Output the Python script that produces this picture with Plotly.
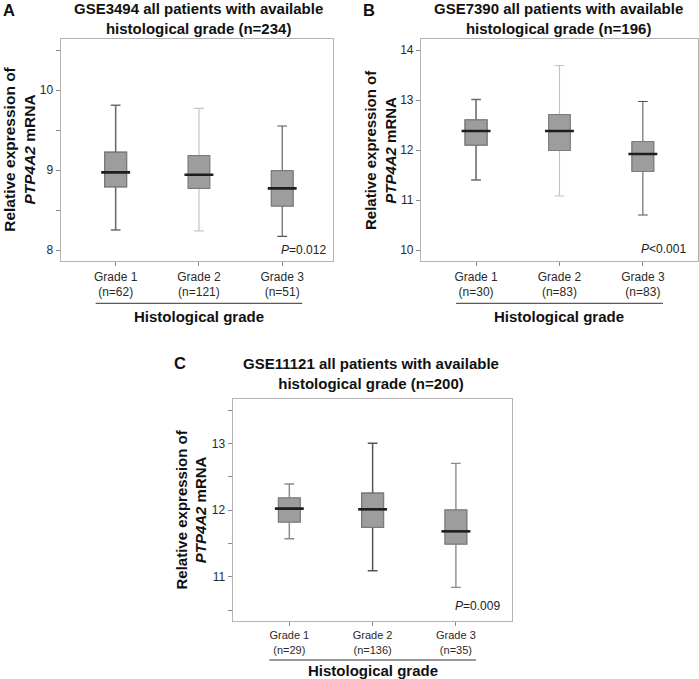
import plotly.graph_objects as go

W, H = 699, 679

# ---------------- data ----------------
grades = ["Grade 1", "Grade 2", "Grade 3"]

A_title = "GSE3494 all patients with available<br>histological grade (n=234)"
A_n = [62, 121, 51]
A_upper = [9.81, 9.77, 9.55]
A_q3 = [9.22, 9.18, 8.99]
A_med = [8.97, 8.94, 8.77]
A_q1 = [8.79, 8.77, 8.55]
A_lower = [8.25, 8.24, 8.17]
A_p = "<i>P</i>=0.012"
A_yticks = [8, 8.5, 9, 9.5, 10, 10.5]

B_title = "GSE7390 all patients with available<br>histological grade (n=196)"
B_n = [30, 83, 83]
B_upper = [13.01, 13.69, 12.97]
B_q3 = [12.60, 12.71, 12.17]
B_med = [12.38, 12.38, 11.92]
B_q1 = [12.10, 11.99, 11.57]
B_lower = [11.40, 11.08, 10.70]
B_p = "<i>P</i><0.001"
B_yticks = [10, 11, 12, 13, 14]

C_title = "GSE11121 all patients with available<br>histological grade (n=200)"
C_n = [29, 136, 35]
C_upper = [12.39, 13.00, 12.70]
C_q3 = [12.18, 12.25, 12.00]
C_med = [12.02, 12.01, 11.68]
C_q1 = [11.82, 11.74, 11.49]
C_lower = [11.57, 11.09, 10.84]
C_p = "<i>P</i>=0.009"
C_yticks = [10.5, 11, 11.5, 12, 12.5, 13, 13.5]

ytitle = "Relative expression of<br><i>PTP4A2</i> mRNA"
xtitle = "Histological grade"

# ---------------- layout helpers ----------------
def fx(p):
    return p / W

def fy(p):
    return 1 - p / H

FONT = "Arial, Liberation Sans, sans-serif"
FILL = "#9d9d9d"
BORDER = "#7c7c7c"
MEDIAN = "#1e1e1e"
BOXW = 0.26

panels = [
    dict(key="A", title=A_title, n=A_n, up=A_upper, q3=A_q3, med=A_med, q1=A_q1, lo=A_lower,
         p=A_p, yt=A_yticks, xr=[-0.66, 2.61], yr=[7.8625, 10.644],
         px=(60.7, 333.0), py=(38.5, 261.0),
         wcol=["#6c6c6c", "#c6c6c6", "#575757"], ww=[1.6, 1.3, 1.1],
         letter=(9, 10), tcx=198, tcy=18, ytx=20, pxy=(328, 250),
         tick_fs=12, line_y=303.3, lab_y=316.7, ytfs=15.5),
    dict(key="B", title=B_title, n=B_n, up=B_upper, q3=B_q3, med=B_med, q1=B_q1, lo=B_lower,
         p=B_p, yt=B_yticks, xr=[-0.66, 2.655], yr=[9.78, 14.22],
         px=(421.0, 697.5), py=(39.0, 261.0),
         wcol=["#6e6e6e", "#c2c2c2", "#505050"], ww=[1.6, 1.2, 1.0],
         letter=(369, 10), tcx=558, tcy=18, ytx=380, pxy=(688, 249),
         tick_fs=12, line_y=303.3, lab_y=316.7, ytfs=15),
    dict(key="C", title=C_title, n=C_n, up=C_upper, q3=C_q3, med=C_med, q1=C_q1, lo=C_lower,
         p=C_p, yt=C_yticks, xr=[-0.68, 2.67], yr=[10.335, 13.665],
         px=(232.7, 511.7), py=(399.0, 621.0),
         wcol=["#8c8c8c", "#555555", "#8c8c8c"], ww=[1.5, 1.5, 1.4],
         letter=(180, 363), tcx=371, tcy=373, ytx=190.5, pxy=(502, 606),
         tick_fs=11, line_y=660, lab_y=670.5, ytfs=15),
]

fig = go.Figure()
annotations = []
shapes = []
layout = dict(width=W, height=H, margin=dict(l=0, r=0, t=0, b=0),
              paper_bgcolor="white", plot_bgcolor="white", showlegend=False,
              font=dict(family=FONT, color="#222222"))

for i, P in enumerate(panels):
    sfx = "" if i == 0 else str(i + 1)
    xa, ya = "x" + sfx, "y" + sfx
    xpx = (P["px"][1] - P["px"][0]) / (P["xr"][1] - P["xr"][0])  # px per category

    for g in range(3):
        # whiskers (full box, whisker colour)
        fig.add_trace(go.Box(
            x=[g], q1=[P["q1"][g]], median=[P["med"][g]], q3=[P["q3"][g]],
            lowerfence=[P["lo"][g]], upperfence=[P["up"][g]],
            width=BOXW, whiskerwidth=0.45, boxpoints=False,
            fillcolor="rgba(0,0,0,0)", line=dict(color=P["wcol"][g], width=P["ww"][g]),
            xaxis=xa, yaxis=ya, hoverinfo="skip"))
        # box body on top
        fig.add_trace(go.Box(
            x=[g], q1=[P["q1"][g]], median=[P["med"][g]], q3=[P["q3"][g]],
            lowerfence=[P["q1"][g]], upperfence=[P["q3"][g]],
            width=BOXW, whiskerwidth=0, boxpoints=False,
            fillcolor=FILL, line=dict(color=BORDER, width=1.1),
            xaxis=xa, yaxis=ya, hoverinfo="skip"))
    # medians
    fig.add_trace(go.Scatter(
        x=[0, 1, 2], y=P["med"], mode="markers",
        marker=dict(symbol="line-ew", size=BOXW * xpx - 1,
                    line=dict(color=MEDIAN, width=2.6)),
        xaxis=xa, yaxis=ya, hoverinfo="skip"))

    ticktext = [f"{grades[g]}<br>(n={P['n'][g]})" for g in range(3)]
    ytext = [(str(int(v)) if float(v).is_integer() else "") for v in P["yt"]]

    layout["xaxis" + sfx] = dict(
        domain=[fx(P["px"][0]), fx(P["px"][1])], anchor=ya, range=P["xr"],
        tickmode="array", tickvals=[0, 1, 2], ticktext=ticktext,
        ticks="outside", ticklen=4, tickwidth=1, tickcolor="#8a8a8a",
        showline=True, mirror=True, linecolor="#b4b4b4", linewidth=1.2,
        showgrid=False, zeroline=False,
        tickfont=dict(family=FONT, size=P["tick_fs"], color="#2a2a2a"))
    layout["yaxis" + sfx] = dict(
        domain=[fy(P["py"][1]), fy(P["py"][0])], anchor=xa, range=P["yr"],
        tickmode="array", tickvals=P["yt"], ticktext=ytext,
        ticks="outside", ticklen=4, tickwidth=1, tickcolor="#8a8a8a",
        showline=True, mirror=True, linecolor="#b4b4b4", linewidth=1.2,
        showgrid=False, zeroline=False,
        tickfont=dict(family=FONT, size=12, color="#2a2a2a"))

    # panel letter
    annotations.append(dict(text=f"<b>{P['key']}</b>", xref="paper", yref="paper",
                            x=fx(P["letter"][0]), y=fy(P["letter"][1]),
                            xanchor="center", yanchor="middle", showarrow=False,
                            font=dict(family=FONT, size=16.5, color="#111111")))
    # title
    annotations.append(dict(text=f"<b>{P['title']}</b>", xref="paper", yref="paper",
                            x=fx(P["tcx"]), y=fy(P["tcy"]),
                            xanchor="center", yanchor="middle", showarrow=False,
                            font=dict(family=FONT, size=15, color="#111111")))
    # y axis title
    annotations.append(dict(text=f"<b>{ytitle}</b>", xref="paper", yref="paper",
                            x=fx(P["ytx"]), y=fy((P["py"][0] + P["py"][1]) / 2),
                            xanchor="center", yanchor="middle", textangle=-90,
                            showarrow=False,
                            font=dict(family=FONT, size=P["ytfs"], color="#111111")))
    # P value
    annotations.append(dict(text=P["p"], xref="paper", yref="paper",
                            x=fx(P["pxy"][0]), y=fy(P["pxy"][1]),
                            xanchor="right", yanchor="middle", showarrow=False,
                            font=dict(family=FONT, size=12, color="#222222")))
    # x group title + rule
    annotations.append(dict(text=f"<b>{xtitle}</b>", xref=xa, yref="paper",
                            x=1, y=fy(P["lab_y"]),
                            xanchor="center", yanchor="middle", showarrow=False,
                            font=dict(family=FONT, size=15, color="#111111")))
    shapes.append(dict(type="line", xref=xa, yref="paper",
                       x0=-0.24, x1=2.24, y0=fy(P["line_y"]), y1=fy(P["line_y"]),
                       line=dict(color="#333333", width=1)))

layout["annotations"] = annotations
layout["shapes"] = shapes
fig.update_layout(**layout)
fig.write_html("out.html",
               config={"displayModeBar": False},
               post_script="document.body.style.margin='0';"
                           "document.body.style.padding='0';"
                           "document.body.style.overflow='hidden';")
